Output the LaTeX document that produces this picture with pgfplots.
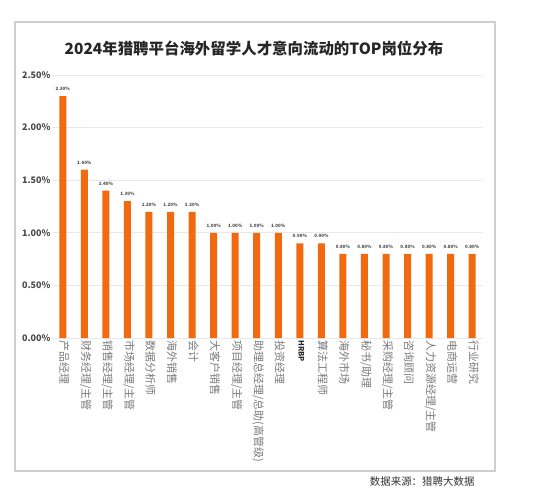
\documentclass[border=0pt]{standalone}
\usepackage{pgfplots}
\pgfplotsset{compat=1.18}
\usepackage{fontspec}
\setmainfont{Noto Sans CJK SC}
\definecolor{barorange}{HTML}{F26A10}
\definecolor{gridgray}{HTML}{E8E8E8}
\definecolor{boxgray}{HTML}{CFCFCF}
\definecolor{labgray}{HTML}{7A7A7A}
\definecolor{ticktxt}{HTML}{4A4A4A}
\begin{document}
\begin{tikzpicture}[x=1bp,y=1bp]
\path[use as bounding box] (-52,-162) rectangle (506,338);
\fill[white] (-52,-162) rectangle (506,338);
\draw[boxgray, line width=2bp] (-37,-133) rectangle (443,316);
\node[font=\fontsize{15.5}{18}\selectfont\bfseries, text=black!85] at (202,290)
  {2024年猎聘平台海外留学人才意向流动的TOP岗位分布};
\begin{axis}[
  at={(0,0)}, anchor=south west,
  scale only axis,
  width=431bp, height=263bp,
  xmin=-0.5, xmax=19.5,
  ymin=0, ymax=2.5,
  axis line style={draw=none},
  tick style={draw=none},
  ymajorgrids,
  major grid style={draw=gridgray, line width=0.8bp},
  ytick={0,0.5,1,1.5,2,2.5},
  /pgf/number format/assume math mode=true,
  yticklabel={\pgfmathprintnumber[fixed,fixed zerofill,precision=2]{\tick}\%},
  yticklabel style={font=\fontsize{9}{10}\selectfont\bfseries, text=ticktxt, xshift=2bp},
  xtick={0,...,19},
  xticklabels={产品经理,财务经理/主管,销售经理/主管,市场经理/主管,数据分析师,海外销售,会计,大客户销售,项目经理/主管,助理总经理/总助(高管级),投资经理,{\color{black!85}\fontsize{7.5}{8}\selectfont\bfseries HRBP},算法工程师,海外市场,秘书/助理,采购经理/主管,咨询顾问,人力资源经理/主管,电商运营,行业研究},
  xticklabel style={rotate=-90, anchor=west, font=\fontsize{11}{12}\selectfont, text=labgray, xshift=-1bp, yshift=1.5bp},
]
\addplot[ybar, bar width=7bp, fill=barorange, draw=none,
  nodes near coords={\pgfmathprintnumber[fixed,fixed zerofill,precision=2]{\pgfplotspointmeta}\%},
  every node near coord/.append style={font=\fontsize{4.5}{5}\selectfont\bfseries, text=ticktxt, yshift=2bp}]
coordinates {
  (0,2.30) (1,1.60) (2,1.40) (3,1.30) (4,1.20) (5,1.20) (6,1.20)
  (7,1.00) (8,1.00) (9,1.00) (10,1.00) (11,0.90) (12,0.90)
  (13,0.80) (14,0.80) (15,0.80) (16,0.80) (17,0.80) (18,0.80) (19,0.80)
};
\end{axis}
\node[anchor=east, font=\fontsize{10.5}{12}\selectfont, text=black!80] at (426,-144) {数据来源：猎聘大数据};
\end{tikzpicture}
\end{document}
